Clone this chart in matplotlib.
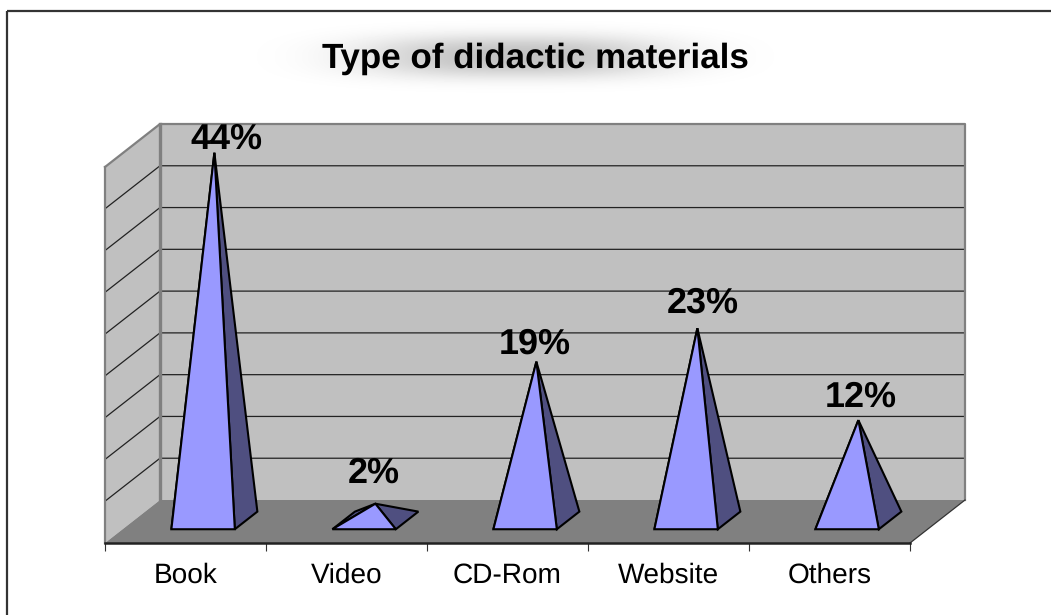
# Type of didactic materials: 3D-look pyramid chart drawn on plain 2D axes

import numpy as np
import matplotlib.pyplot as plt
from matplotlib.patches import Polygon

plt.rcParams["font.family"] = ["Liberation Sans", "DejaVu Sans"]
plt.rcParams["text.hinting"] = "no_hinting"
plt.rcParams["text.hinting_factor"] = 1

categories = ["Book", "Video", "CD-Rom", "Website", "Others"]
percent = [44, 2, 19, 23, 12]
value_labels = ["44%", "2%", "19%", "23%", "12%"]
grid_values = [0, 5, 10, 15, 20, 25, 30, 35, 40, 45]

W, H = 1051, 615

# label nudges from the pyramid tip, in pixels
label_dx = [12, -2, -2, 5, 2]
label_dy = [4, 21, 8, 16, 13]

# oblique projection of the depth axis, one full depth in pixels
depth_px = (55, 43)
# pyramid base sits between these fractions of the depth
base_front = 0.32
base_back = 0.73
base_half_width = 0.197

WALL = "#C0C0C0"
FLOOR = "#808080"
FRONT = "#9999FF"
SIDE = "#4F4F80"

fig = plt.figure(figsize=(W / 100, H / 100), dpi=100, facecolor="white")


def fig_rect(left, top, right, bottom):
    return [left / W, 1 - bottom / H, (right - left) / W, (bottom - top) / H]


# page frame
frame = fig.add_axes([0, 0, 1, 1], zorder=0)
frame.axis("off")
frame.plot([7, 7], [H + 5, 11], color="#333333", lw=1.6, solid_capstyle="butt")
frame.plot([7, W + 5], [11, 11], color="#333333", lw=1.6, solid_capstyle="butt")

# soft grey haze behind the title
xx, yy = np.meshgrid(np.arange(W), np.arange(120))
haze = np.exp(-(np.abs(xx - 515) / 150.0) ** 2.6 - (np.abs(yy - 56) / 21.0) ** 2.6)
frame.imshow(1 - 0.24 * haze, cmap="gray", vmin=0, vmax=1, extent=[0, W, 120, 0],
             aspect="auto", zorder=0)
frame.set_xlim(0, W)
frame.set_ylim(H, 0)
frame.text(535, 68, "Type of didactic materials", ha="center", va="baseline",
           fontsize=25, fontweight="bold", color="black", zorder=2)

# main axes: x in category slots, y in percent on the front plane
ax = fig.add_axes(fig_rect(105, 167, 910, 543), zorder=1)
ax.patch.set_alpha(0)
ax.set_xlim(0, len(categories))
ax.set_ylim(0, 45)
for side in ["top", "left", "right"]:
    ax.spines[side].set_visible(False)
ax.spines["bottom"].set_color("#222222")
ax.spines["bottom"].set_linewidth(1.8)
ax.set_yticks([])
ax.set_xticks(np.arange(len(categories) + 1))
ax.set_xticklabels([])
ax.tick_params(axis="x", length=5.5, width=0.8, color="#333333")
ax.set_xticks(np.arange(len(categories)) + 0.5, minor=True)
ax.set_xticklabels(categories, minor=True, fontsize=20)
ax.tick_params(axis="x", which="minor", length=0, pad=14)

# one slot and one percent expressed in pixels
px_x = 805 / len(categories)
px_y = 376 / 45
dx_full = depth_px[0] / px_x
dy_full = depth_px[1] / px_y


def project(x, y, d):
    # d = 0 is the front plane, d = 1 the back wall
    return x + d * dx_full, y + d * dy_full


# walls and floor
n = len(categories)
top = grid_values[-1]
corners_back = [project(0, 0, 1), project(n, 0, 1), project(n, top, 1), project(0, top, 1)]
ax.add_patch(Polygon(corners_back, closed=True, fc=WALL, ec="none", clip_on=False, zorder=1))
side_wall = [project(0, 0, 0), project(0, 0, 1), project(0, top, 1), project(0, top, 0)]
ax.add_patch(Polygon(side_wall, closed=True, fc=WALL, ec="none", clip_on=False, zorder=1))
floor = [project(0, 0, 0), project(n, 0, 0), project(n, 0, 1), project(0, 0, 1)]
ax.add_patch(Polygon(floor, closed=True, fc=FLOOR, ec="none", clip_on=False, zorder=2))

# gridlines run along the side wall and across the back wall
for g in grid_values[1:-1]:
    x0, y0 = project(0, g, 0)
    x1, y1 = project(0, g, 1)
    x2, y2 = project(n, g, 1)
    ax.plot([x0, x1, x2], [y0, y1, y2], color="#222222", lw=0.9, clip_on=False, zorder=1.5)

# grey outline of the walls
x0, y0 = project(0, top, 0)
x1, y1 = project(0, top, 1)
x2, y2 = project(n, top, 1)
x3, y3 = project(n, 0, 1)
ax.plot([x0, x1, x2, x3], [y0, y1, y2, y3], color=FLOOR, lw=1.6, clip_on=False, zorder=1.6)
x4, y4 = project(0, 0, 0)
x5, y5 = project(0, 0, 1)
ax.plot([x0, x4], [y0, y4], color=FLOOR, lw=1.6, clip_on=False, zorder=1.6)
ax.plot([x1, x5], [y1, y5], color=FLOOR, lw=2.4, clip_on=False, zorder=1.6)
x6, y6 = project(n, 0, 0)
ax.plot([x6, x3], [y6, y3], color="#333333", lw=0.9, clip_on=False, zorder=2.1)

# pyramids
for i, (name, v) in enumerate(zip(categories, percent)):
    c = i + 0.5
    fl = project(c - base_half_width, 0, base_front)
    fr = project(c + base_half_width, 0, base_front)
    bl = project(c - base_half_width, 0, base_back)
    br = project(c + base_half_width, 0, base_back)
    tip = project(c, v, (base_front + base_back) / 2)

    ax.add_patch(Polygon([fl, bl, tip], closed=True, fc=SIDE, ec="black", lw=1.5,
                         joinstyle="miter", clip_on=False, zorder=3))
    ax.add_patch(Polygon([fr, br, tip], closed=True, fc=SIDE, ec="black", lw=1.5,
                         joinstyle="miter", clip_on=False, zorder=3.1))
    ax.add_patch(Polygon([fl, fr, tip], closed=True, fc=FRONT, ec="black", lw=1.5,
                         joinstyle="miter", clip_on=False, zorder=3.2))

    ax.annotate(value_labels[i], xy=tip, xytext=(label_dx[i] * 0.72, label_dy[i] * 0.72),
                textcoords="offset points", ha="center", va="baseline",
                fontsize=26, fontweight="bold", color="black",
                annotation_clip=False, zorder=5)

fig.savefig("out.png", dpi=100, facecolor="white")
